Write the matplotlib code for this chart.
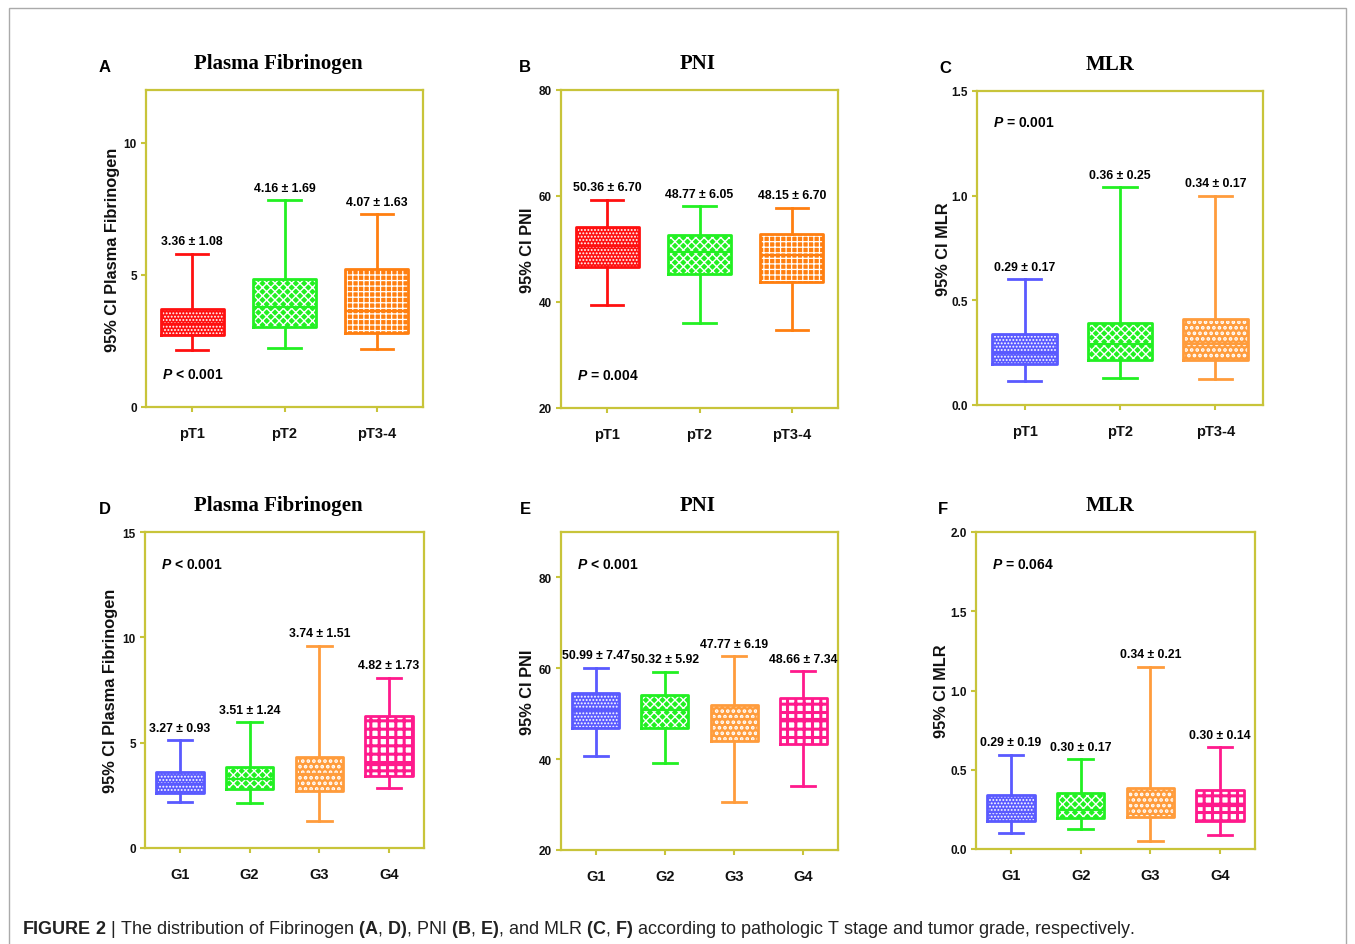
import matplotlib
matplotlib.use("Agg")
import matplotlib.pyplot as plt
from matplotlib.patches import Rectangle

plt.rcParams['font.family'] = ['Liberation Sans', 'DejaVu Sans']
plt.rcParams['mathtext.fontset'] = 'custom'
plt.rcParams['mathtext.rm'] = 'Liberation Sans'
plt.rcParams['mathtext.bf'] = 'Liberation Sans:bold'
plt.rcParams['mathtext.it'] = 'Liberation Sans:bold:italic'

# ---- data ----
stage_cats = ['pT1', 'pT2', 'pT3-4']
grade_cats = ['G1', 'G2', 'G3', 'G4']

fib_t_lo = [2.17, 2.22, 2.20]
fib_t_q1 = [2.73, 3.02, 2.79]
fib_t_med = [3.14, 3.77, 3.65]
fib_t_q3 = [3.71, 4.85, 5.23]
fib_t_hi = [5.80, 7.83, 7.30]
fib_t_lab = ['3.36 ± 1.08', '4.16 ± 1.69', '4.07 ± 1.63']

pni_t_lo = [39.4, 36.1, 34.8]
pni_t_q1 = [46.6, 45.3, 43.8]
pni_t_med = [50.6, 49.4, 48.9]
pni_t_q3 = [54.2, 52.7, 52.9]
pni_t_hi = [59.3, 58.1, 57.8]
pni_t_lab = ['50.36 ± 6.70', '48.77 ± 6.05', '48.15 ± 6.70']

mlr_t_lo = [0.115, 0.131, 0.123]
mlr_t_q1 = [0.194, 0.213, 0.215]
mlr_t_med = [0.25, 0.29, 0.29]
mlr_t_q3 = [0.338, 0.39, 0.413]
mlr_t_hi = [0.60, 1.04, 1.00]
mlr_t_lab = ['0.29 ± 0.17', '0.36 ± 0.25', '0.34 ± 0.17']

fib_g_lo = [2.18, 2.15, 1.26, 2.86]
fib_g_q1 = [2.62, 2.78, 2.69, 3.40]
fib_g_med = [3.05, 3.29, 3.50, 3.92]
fib_g_q3 = [3.61, 3.84, 4.32, 6.25]
fib_g_hi = [5.11, 5.98, 9.59, 8.08]
fib_g_lab = ['3.27 ± 0.93', '3.51 ± 1.24', '3.74 ± 1.51', '4.82 ± 1.73']

pni_g_lo = [40.8, 39.2, 30.5, 34.1]
pni_g_q1 = [46.9, 46.9, 44.0, 43.4]
pni_g_med = [50.9, 50.9, 48.9, 48.9]
pni_g_q3 = [54.6, 54.2, 52.0, 53.5]
pni_g_hi = [60.15, 59.2, 62.7, 59.3]
pni_g_lab = ['50.99 ± 7.47', '50.32 ± 5.92', '47.77 ± 6.19', '48.66 ± 7.34']

mlr_g_lo = [0.100, 0.126, 0.053, 0.090]
mlr_g_q1 = [0.178, 0.193, 0.200, 0.178]
mlr_g_med = [0.231, 0.248, 0.290, 0.270]
mlr_g_q3 = [0.340, 0.351, 0.382, 0.374]
mlr_g_hi = [0.594, 0.567, 1.149, 0.641]
mlr_g_lab = ['0.29 ± 0.19', '0.30 ± 0.17', '0.34 ± 0.21', '0.30 ± 0.14']

p_values = [r'$\mathit{P}$ < 0.001', r'$\mathit{P}$ = 0.004', r'$\mathit{P}$ = 0.001',
            r'$\mathit{P}$ < 0.001', r'$\mathit{P}$ < 0.001', r'$\mathit{P}$ = 0.064']

# ---- styles ----
RED, GREEN, ORANGE = '#FF1010', '#22F022', '#FF7F10'
BLUE, ORANGE2, PINK = '#5A5AFF', '#FF9C3C', '#FF1A8C'
SPINE = '#C8C43A'
# (line colour, face, hatch, hatch colour, hatch lw)
sty = {
    'red': (RED, RED, '.....', 'white', 0.9),
    'green': (GREEN, GREEN, 'xxxx', 'white', 1.0),
    'orange': (ORANGE, ORANGE, '+++', 'white', 0.9),
    'blue': (BLUE, BLUE, '.....', 'white', 0.9),
    'orange2': (ORANGE2, ORANGE2, '...', 'white', 1.8),
    'pink': (PINK, 'white', '++', PINK, 2.2),
}

W, H = 1355, 945
fig = plt.figure(figsize=(W / 100, H / 100), dpi=100)


def px_axes(x0, y0, x1, y1):
    return fig.add_axes([x0 / W, 1 - y1 / H, (x1 - x0) / W, (y1 - y0) / H])


def panel(box, letter, let_dx, title, title_dx, ylabel, cats, lo, q1, med, q3, hi, labs,
          styles, ylim, yticks, ytl, pval, ptop):
    ax = px_axes(*box)
    stats = [dict(whislo=a, q1=b, med=c, q3=d, whishi=e, fliers=[])
             for a, b, c, d, e in zip(lo, q1, med, q3, hi)]
    pos = list(range(len(cats)))
    # hatched fill
    bp = ax.bxp(stats, positions=pos, widths=0.68, patch_artist=True,
                showcaps=False, boxprops=dict(linewidth=0),
                whiskerprops=dict(linewidth=0), medianprops=dict(linewidth=0))
    for p, s in zip(bp['boxes'], styles):
        col, face, hatch, hc, hlw = sty[s]
        p.set_facecolor(face)
        p.set_edgecolor(hc)
        p.set_hatch(hatch)
        p.set_linewidth(0)
        if hasattr(p, 'set_hatch_linewidth'):
            p.set_hatch_linewidth(hlw)
    # outlines, whiskers, caps, medians
    bp2 = ax.bxp(stats, positions=pos, widths=0.68, capwidths=0.35)
    for i, s in enumerate(styles):
        col = sty[s][0]
        bp2['boxes'][i].set(color=col, linewidth=2)
        bp2['medians'][i].set(color=col, linewidth=1.6)
        for k in (2 * i, 2 * i + 1):
            bp2['whiskers'][k].set(color=col, linewidth=2)
            bp2['caps'][k].set(color=col, linewidth=2)
    for x, y, t in zip(pos, hi, labs):
        ax.annotate(t, (x, y), xytext=(0, 9), textcoords='offset points',
                    ha='center', va='center', fontsize=8.8, fontweight='bold')
    ax.annotate(pval, (0, 0.9 if ptop else 0.105), xycoords='axes fraction',
                xytext=(11.5, 0), textcoords='offset points', ha='left',
                va='center', fontsize=10, fontweight='bold')
    ax.set_xlim(-0.5, len(cats) - 0.5)
    ax.set_ylim(*ylim)
    ax.set_yticks(yticks)
    ax.set_yticklabels(ytl, fontsize=8.5, fontweight='bold')
    ax.set_xticks(pos)
    ax.set_xticklabels(cats, fontsize=10.5, fontweight='bold')
    for sp in ax.spines.values():
        sp.set_color(SPINE)
        sp.set_linewidth(1.6)
    ax.tick_params(axis='y', colors=SPINE, labelcolor='#111111', length=3.5, width=1.5, pad=3)
    ax.tick_params(axis='x', colors=SPINE, labelcolor='#111111', length=3.5, width=1.5, pad=10)
    ax.set_ylabel(ylabel, fontsize=11.8, fontweight='bold', color='#111111')
    ax.yaxis.set_label_coords(-34 / (box[2] - box[0]), 0.5)
    ax.yaxis.label.set_va('center')
    ax.annotate(letter, (0, 1), xycoords='axes fraction', xytext=(let_dx * 0.72, 23 * 0.72),
                textcoords='offset points', ha='center', va='center',
                fontsize=12, fontweight='bold')
    ax.annotate(title, (0.5, 1), xycoords='axes fraction', xytext=(title_dx * 0.72, 27 * 0.72),
                textcoords='offset points', ha='center', va='center',
                fontsize=15, fontweight='bold', family='Liberation Serif')
    return ax


panel((146, 91, 423, 408), 'A', -41, 'Plasma Fibrinogen', -6, '95% CI Plasma Fibrinogen',
      stage_cats, fib_t_lo, fib_t_q1, fib_t_med, fib_t_q3, fib_t_hi, fib_t_lab,
      ['red', 'green', 'orange'], (0, 12), [0, 5, 10], ['0', '5', '10'], p_values[0], False)
panel((561, 91, 838, 409), 'B', -36, 'PNI', -2, '95% CI PNI',
      stage_cats, pni_t_lo, pni_t_q1, pni_t_med, pni_t_q3, pni_t_hi, pni_t_lab,
      ['red', 'green', 'orange'], (20, 80), [20, 40, 60, 80], ['20', '40', '60', '80'], p_values[1], False)
panel((977, 92, 1263, 406), 'C', -32, 'MLR', -10, '95% CI MLR',
      stage_cats, mlr_t_lo, mlr_t_q1, mlr_t_med, mlr_t_q3, mlr_t_hi, mlr_t_lab,
      ['blue', 'green', 'orange2'], (0, 1.5), [0, 0.5, 1.0, 1.5], ['0.0', '0.5', '1.0', '1.5'], p_values[2], True)
panel((145, 533, 424, 849), 'D', -40, 'Plasma Fibrinogen', -6, '95% CI Plasma Fibrinogen',
      grade_cats, fib_g_lo, fib_g_q1, fib_g_med, fib_g_q3, fib_g_hi, fib_g_lab,
      ['blue', 'green', 'orange2', 'pink'], (0, 15), [0, 5, 10, 15], ['0', '5', '10', '15'], p_values[3], True)
panel((561, 533, 838, 851), 'E', -36, 'PNI', -2, '95% CI PNI',
      grade_cats, pni_g_lo, pni_g_q1, pni_g_med, pni_g_q3, pni_g_hi, pni_g_lab,
      ['blue', 'green', 'orange2', 'pink'], (20, 90), [20, 40, 60, 80], ['20', '40', '60', '80'], p_values[4], True)
panel((976, 533, 1255, 850), 'F', -33, 'MLR', -5, '95% CI MLR',
      grade_cats, mlr_g_lo, mlr_g_q1, mlr_g_med, mlr_g_q3, mlr_g_hi, mlr_g_lab,
      ['blue', 'green', 'orange2', 'pink'], (0, 2.0), [0, 0.5, 1.0, 1.5, 2.0],
      ['0.0', '0.5', '1.0', '1.5', '2.0'], p_values[5], True)

# page frame and caption
fig.patches.append(Rectangle((9 / W, -0.1), 1337 / W, 1.1 - 9 / H, transform=fig.transFigure,
                             fill=False, edgecolor='#AAAAAA', linewidth=1))
caption = (r'$\mathbf{FIGURE\ 2}$ | The distribution of Fibrinogen $\mathbf{(A}$, $\mathbf{D)}$, '
           r'PNI $\mathbf{(B}$, $\mathbf{E)}$, and MLR $\mathbf{(C}$, $\mathbf{F)}$ according to '
           r'pathologic T stage and tumor grade, respectively.')
fig.text(22 / W, 1 - 930 / H, caption, ha='left', va='center', fontsize=13.0, color='#222222')

fig.savefig('out.png', dpi=100)
